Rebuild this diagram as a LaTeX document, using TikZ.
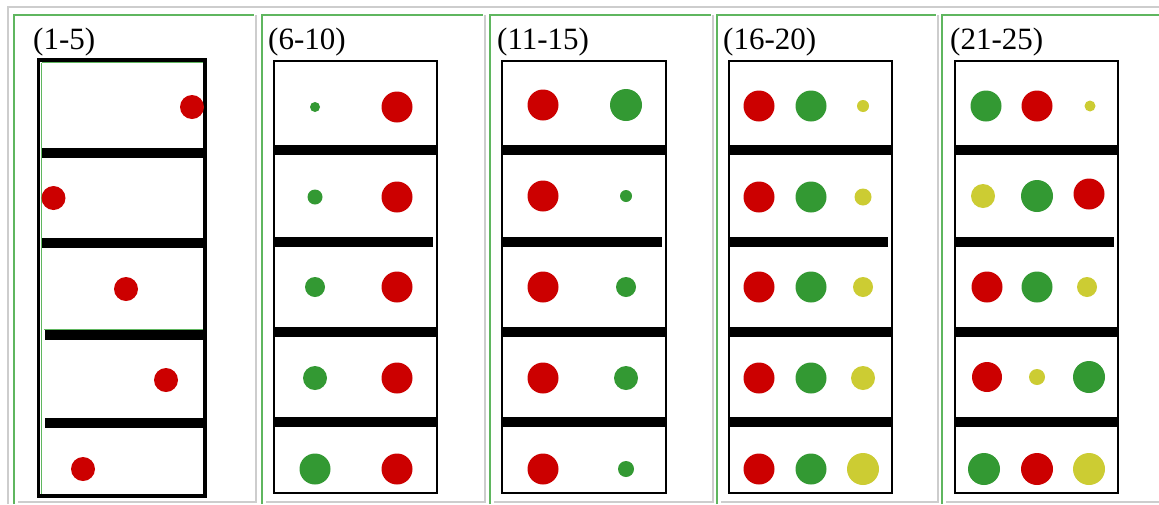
\documentclass[tikz,border=0pt]{standalone}
\usepackage{fontspec}
\setmainfont{Liberation Serif}
\definecolor{dotred}{HTML}{CC0000}
\definecolor{dotgreen}{HTML}{339933}
\definecolor{dotyellow}{HTML}{CCCC33}
\definecolor{framegreen}{HTML}{5FB65F}
\definecolor{framegray}{HTML}{CDCDCD}
\begin{document}
\begin{tikzpicture}[x=1pt,y=-1pt,
  lbl/.style={anchor=base west,inner sep=0pt,font=\fontsize{31}{33}\selectfont},
  greenedge/.style={draw=framegreen,line width=2pt},
  grayedge/.style={draw=framegray,line width=2pt},
  boxline/.style={draw=black,line width=2pt},
  bar/.style={fill=black},
  R/.style={fill=dotred},
  G/.style={fill=dotgreen},
  Y/.style={fill=dotyellow}]
\useasboundingbox (0,0) rectangle (1159,504);
\fill[white] (0,0) rectangle (1159,504);
% outer frame
\draw[grayedge] (8,504) -- (8,7) -- (1159,7);
% panel cells
\foreach \L/\Rr in {14/256,262/485,490/713,717/938,942/1166}{
  \draw[greenedge] (\L,504) -- (\L,15) -- (\Rr-2,15);
  \draw[grayedge] (\Rr,15) -- (\Rr,502) -- (\L+4,502);
}
% labels
\node[lbl] (l1) at (33,49) {(1-5)};
\node[lbl] (l2) at (268,49) {(6-10)};
\node[lbl] (l3) at (497,49) {(11-15)};
\node[lbl] (l4) at (723,49) {(16-20)};
\node[lbl] (l5) at (950,49) {(21-25)};
% panel 1
\draw[draw=black,line width=3.5pt] (38.5,60) rectangle (205,496);
\draw[draw=framegreen,line width=1.2pt] (41.5,62.5) -- (203,62.5);
\draw[draw=framegreen,line width=1.2pt] (41.5,62.5) -- (41.5,494);
\draw[draw=framegreen,line width=1pt] (44,329.5) -- (203,329.5);
\fill[bar] (42,148) rectangle (203,158);
\fill[bar] (42,238) rectangle (203,248);
\fill[bar] (45,330) rectangle (203,340);
\fill[bar] (45,418) rectangle (203,428);
\fill[R] (192,107) circle[radius=12pt];
\fill[R] (53.5,198) circle[radius=12pt];
\fill[R] (126,289) circle[radius=12pt];
\fill[R] (166,380) circle[radius=12pt];
\fill[R] (83,469) circle[radius=12pt];
% panels 2-5 boxes and bars
\foreach \BL/\BR in {274/437,502/666,729/892,955/1118}{
  \draw[boxline] (\BL,61) rectangle (\BR,493);
  \fill[bar] (\BL,145) rectangle (\BR,155);
  \fill[bar] (\BL,237) rectangle (\BR-4,247);
  \fill[bar] (\BL,327) rectangle (\BR,337);
  \fill[bar] (\BL,417) rectangle (\BR,427);
}
% panel 2
\foreach \y/\r in {107/5,197/7.5,287/10,378/12,469/15.5}{
  \fill[G] (315,\y) circle[radius=\r pt];
  \fill[R] (397,\y) circle[radius=15.5pt];
}
% panel 3
\foreach \y/\r in {105/16,196/6,287/10,378/12,469/8}{
  \fill[R] (543,\y) circle[radius=15.5pt];
  \fill[G] (626,\y) circle[radius=\r pt];
}
% panel 4
\foreach \y/\r in {106/6,197/8.5,287/10,378/12,469/16}{
  \fill[R] (759,\y) circle[radius=15.5pt];
  \fill[G] (811,\y) circle[radius=15.5pt];
  \fill[Y] (863,\y) circle[radius=\r pt];
}
% panel 5
\fill[G] (986,106) circle[radius=15.5pt];
\fill[R] (1037,106) circle[radius=15.5pt];
\fill[Y] (1090,106) circle[radius=5.5pt];
\fill[Y] (983,196) circle[radius=12pt];
\fill[G] (1037,196) circle[radius=16pt];
\fill[R] (1089,194) circle[radius=15.5pt];
\fill[R] (987,287) circle[radius=15.5pt];
\fill[G] (1037,287) circle[radius=15.5pt];
\fill[Y] (1087,287) circle[radius=10pt];
\fill[R] (987,377) circle[radius=15pt];
\fill[Y] (1037,377) circle[radius=8pt];
\fill[G] (1089,377) circle[radius=16pt];
\fill[G] (984,469) circle[radius=16pt];
\fill[R] (1037,469) circle[radius=16pt];
\fill[Y] (1089,469) circle[radius=16pt];
\end{tikzpicture}
\end{document}
